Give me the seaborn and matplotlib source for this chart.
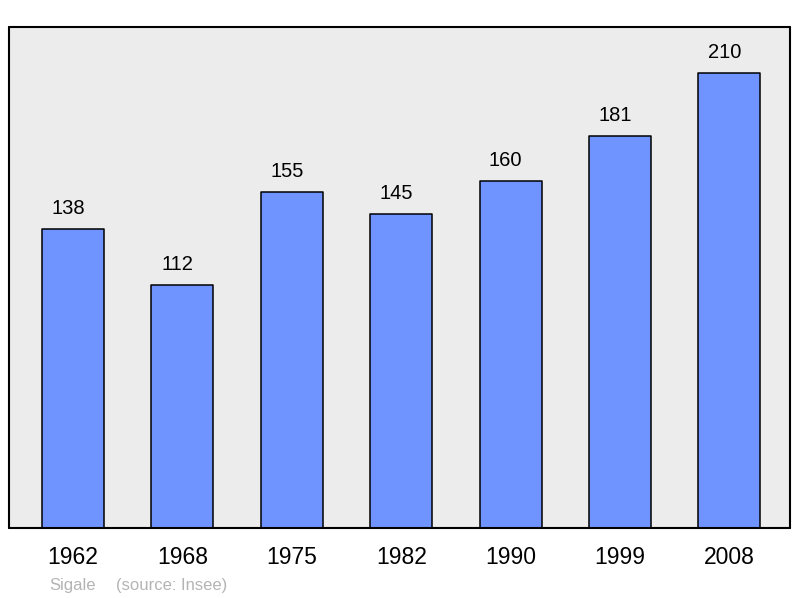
import pandas as pd
import matplotlib
matplotlib.use('Agg')
import matplotlib.pyplot as plt
import seaborn as sns

# Population by census year
years = ['1962', '1968', '1975', '1982', '1990', '1999', '2008']
population = [138, 112, 155, 145, 160, 181, 210]

df = pd.DataFrame({'year': years, 'population': population})

sns.set_style("white")
plt.rcParams['font.family'] = ['Liberation Sans', 'DejaVu Sans']

fig = plt.figure(figsize=(8, 5.98), dpi=100)
ax = fig.add_axes([0.01125, 0.117, 0.97625, 0.838])
ax.set_facecolor('#ececec')

sns.barplot(data=df, x='year', y='population', ax=ax, color='#7094ff',
            saturation=1, width=0.567, edgecolor='black', linewidth=1.1)

for patch in ax.patches:
    patch.set_joinstyle('round')

# value labels above the bars
for i, v in enumerate(population):
    ax.annotate(str(v), xy=(i, v), xytext=(-3.6, 8), textcoords='offset points',
                ha='center', va='bottom', fontsize=14.5, color='black')

ax.set_xlim(-0.585, 6.554)
ax.set_ylim(0, 231.2)
ax.set_yticks([])
ax.set_xlabel('')
ax.set_ylabel('')
ax.tick_params(axis='x', length=0, pad=13, labelsize=16.5, labelcolor='black')

for side in ax.spines.values():
    side.set_visible(True)
    side.set_color('black')
    side.set_linewidth(1.5)
    side.set_capstyle('round')

fig.text(0.061, 0.0134, 'Sigale', color='#b4b4b4', fontsize=12, va='baseline')
fig.text(0.145, 0.0134, '(source: Insee)', color='#b4b4b4', fontsize=12, va='baseline')

fig.savefig('out.png', dpi=100)
